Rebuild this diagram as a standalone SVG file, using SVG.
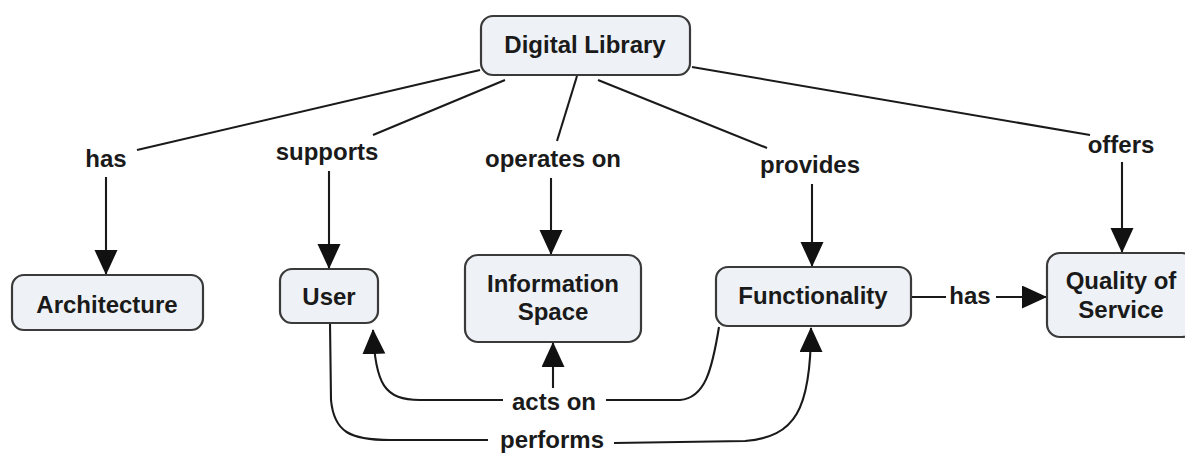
<svg xmlns="http://www.w3.org/2000/svg" width="1185" height="455" viewBox="0 0 1185 455">
  <style>
    .box { fill: #eef2f6; stroke: #3a3a3a; stroke-width: 2.2; }
    .lbl { font-family: "Liberation Sans", Arial, sans-serif; font-weight: bold; font-size: 24px; fill: #1a1a1a; text-anchor: middle; }
    .ln { fill: none; stroke: #1a1a1a; stroke-width: 2.1; }
    .arr { marker-end: url(#head); }
  </style>
  <defs>
    <marker id="head" markerUnits="userSpaceOnUse" markerWidth="25" markerHeight="24" refX="24" refY="11.5" orient="auto">
      <path d="M0,0 L25,11.5 L0,23 z" fill="#111"/>
    </marker>
  </defs>
  <rect width="1185" height="455" fill="#ffffff"/>

  <!-- connectors -->
  <g id="connectors">
    <!-- Digital Library to linking phrases -->
    <line class="ln" x1="480" y1="70" x2="137" y2="150"/>
    <line class="ln" x1="505" y1="80" x2="373" y2="135"/>
    <line class="ln" x1="577" y1="76" x2="557" y2="141"/>
    <line class="ln" x1="598" y1="80" x2="767" y2="148"/>
    <line class="ln" x1="692" y1="67" x2="1090" y2="135"/>
    <!-- linking phrases down to concepts -->
    <line class="ln arr" x1="106" y1="177" x2="106" y2="274"/>
    <line class="ln arr" x1="329" y1="171" x2="329" y2="268"/>
    <line class="ln arr" x1="551" y1="178" x2="551" y2="254"/>
    <line class="ln arr" x1="812" y1="184" x2="812" y2="266"/>
    <line class="ln arr" x1="1122" y1="162" x2="1122" y2="252"/>
    <!-- Functionality has Quality of Service -->
    <line class="ln" x1="911" y1="297" x2="946" y2="297"/>
    <line class="ln arr" x1="996" y1="297" x2="1046" y2="297"/>
    <!-- acts on -->
    <path class="ln arr" d="M503,400 L420,400 C385,400 375,385 373,330"/>
    <path class="ln" d="M606,400 L680,400 C705,398 712,370 719,327"/>
    <line class="ln arr" x1="553" y1="388" x2="553" y2="343"/>
    <!-- performs -->
    <path class="ln" d="M330,323 L331,400 C334,432 350,440 390,440 L488,440"/>
    <path class="ln arr" d="M614,443 L745,441 C795,437 811,410 811,328"/>
  </g>

  <!-- concepts -->
  <g id="digital-library">
    <rect class="box" x="481" y="16" width="209" height="59" rx="12"/>
    <text class="lbl" x="585" y="53">Digital Library</text>
  </g>
  <g id="architecture">
    <rect class="box" x="12" y="275" width="191" height="55" rx="12"/>
    <text class="lbl" x="107" y="313">Architecture</text>
  </g>
  <g id="user">
    <rect class="box" x="280" y="269" width="98" height="54" rx="12"/>
    <text class="lbl" x="329" y="305">User</text>
  </g>
  <g id="information-space">
    <rect class="box" x="465" y="255" width="176" height="87" rx="13"/>
    <text class="lbl" x="553" y="292">Information</text>
    <text class="lbl" x="553" y="320">Space</text>
  </g>
  <g id="functionality">
    <rect class="box" x="716" y="267" width="195" height="59" rx="12"/>
    <text class="lbl" x="813" y="304">Functionality</text>
  </g>
  <g id="quality-of-service">
    <rect class="box" x="1047" y="253" width="148" height="84" rx="13"/>
    <text class="lbl" x="1121" y="289">Quality of</text>
    <text class="lbl" x="1121" y="318">Service</text>
  </g>

  <!-- linking phrases -->
  <g id="phrases">
    <text class="lbl" x="106" y="167">has</text>
    <text class="lbl" x="327" y="160">supports</text>
    <text class="lbl" x="553" y="167">operates on</text>
    <text class="lbl" x="810" y="173">provides</text>
    <text class="lbl" x="1121" y="153">offers</text>
    <text class="lbl" x="970" y="304">has</text>
    <text class="lbl" x="554" y="410">acts on</text>
    <text class="lbl" x="552" y="448">performs</text>
  </g>
</svg>
